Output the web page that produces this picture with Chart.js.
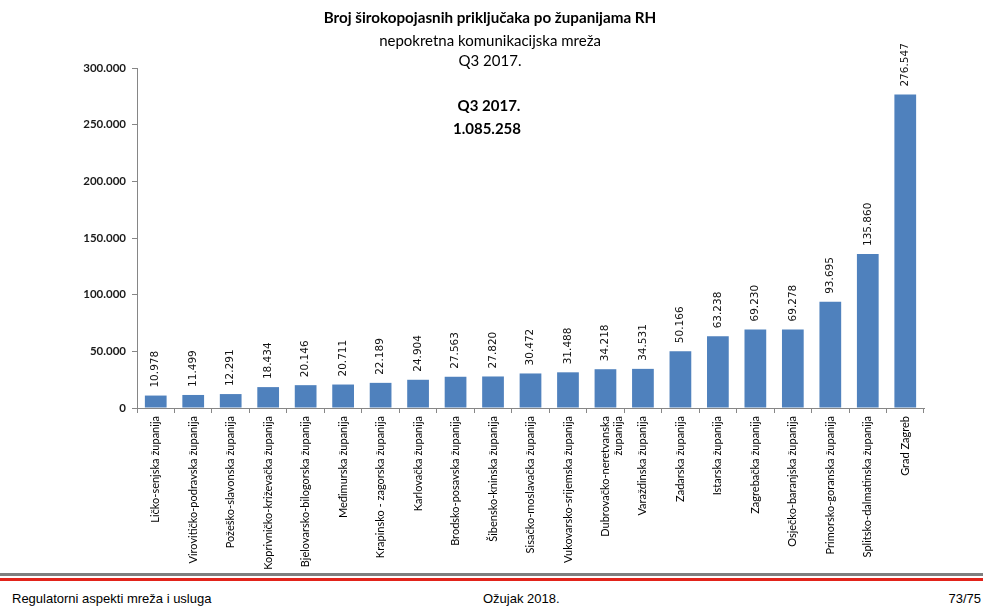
<!DOCTYPE html>
<html lang="hr">
<head>
<meta charset="utf-8">
<script src="https://cdn.jsdelivr.net/npm/chart.js@4/dist/chart.umd.min.js"></script>
<style>
  html, body { margin: 0; padding: 0; background: #fff; }
  #page { position: relative; width: 983px; height: 607px; overflow: hidden; }
  #wrap { position: absolute; left: 0; top: 0; width: 983px; height: 573px; }
  .head { position: absolute; left: 0; width: 980px; text-align: center; color: #000;
          font-family: Lato, sans-serif; white-space: nowrap; line-height: 20px; }
  #head-1 { top: 7px; font-size: 15.2px; font-weight: bold; }
  #head-2 { top: 30px; font-size: 15px; }
  #head-3 { top: 50px; font-size: 15px; }
  #rule-grey { position: absolute; left: 0; top: 573px; width: 983px; height: 3px; background: #7f7f7f; }
  #rule-red { position: absolute; left: 0; top: 578px; width: 983px; height: 3px; background: #e2231a; }
  .foot { position: absolute; top: 591px; font-family: "Liberation Sans Narrow", "Liberation Sans", Arial, sans-serif;
          font-size: 13px; color: #000; white-space: nowrap; }
  #foot-left { left: 12px; }
  #foot-mid { left: 483px; }
  #foot-right { right: 2px; }
</style>
</head>
<body>
<div id="page">
  <div id="wrap"><canvas id="chart"></canvas></div>
  <div class="head" id="head-1">Broj širokopojasnih priključaka po županijama RH</div>
  <div class="head" id="head-2">nepokretna komunikacijska mreža</div>
  <div class="head" id="head-3">Q3 2017.</div>
  <div id="rule-grey"></div>
  <div id="rule-red"></div>
  <div class="foot" id="foot-left">Regulatorni aspekti mreža i usluga</div>
  <div class="foot" id="foot-mid">Ožujak 2018.</div>
  <div class="foot" id="foot-right">73/75</div>
</div>
<script>
// Counties of Croatia, ordered by number of broadband connections
const counties = [
  "Ličko-senjska županija",
  "Virovitičko-podravska županija",
  "Požeško-slavonska županija",
  "Koprivničko-križevačka županija",
  "Bjelovarsko-bilogorska županija",
  "Međimurska županija",
  "Krapinsko - zagorska županija",
  "Karlovačka županija",
  "Brodsko-posavska županija",
  "Šibensko-kninska županija",
  "Sisačko-moslavačka županija",
  "Vukovarsko-srijemska županija",
  ["Dubrovačko-neretvanska", "županija"],
  "Varaždinska županija",
  "Zadarska županija",
  "Istarska županija",
  "Zagrebačka županija",
  "Osječko-baranjska županija",
  "Primorsko-goranska županija",
  "Splitsko-dalmatinska županija",
  "Grad Zagreb"
];

// Fixed broadband connections, Q3 2017.
const connections = [
  10978, 11499, 12291, 18434, 20146, 20711, 22189, 24904, 27563, 27820,
  30472, 31488, 34218, 34531, 50166, 63238, 69230, 69278, 93695, 135860, 276547
];

const yTicks = [0, 50000, 100000, 150000, 200000, 250000, 300000];

const periodLabel = "Q3 2017.";

// Croatian thousands separator
function fmt(n) {
  return String(n).replace(/\B(?=(\d{3})+(?!\d))/g, ".");
}

const total = connections.reduce((a, b) => a + b, 0);

const axisGrey = "#868686";

// Rotated value labels above each bar
const valueLabels = {
  id: "valueLabels",
  afterDatasetsDraw(chart) {
    const ctx = chart.ctx;
    const meta = chart.getDatasetMeta(0);
    ctx.save();
    ctx.font = "10.5px 'DejaVu Sans', sans-serif";
    ctx.fillStyle = "#111";
    ctx.textAlign = "left";
    ctx.textBaseline = "middle";
    meta.data.forEach((bar, i) => {
      ctx.save();
      ctx.translate(bar.x, bar.y - 8);
      ctx.rotate(-Math.PI / 2);
      ctx.fillText(fmt(connections[i]), 0, 0);
      ctx.restore();
    });
    ctx.restore();
  }
};

// Period and national total in the upper part of the plot
const totalBox = {
  id: "totalBox",
  afterDraw(chart) {
    const ctx = chart.ctx;
    ctx.save();
    ctx.font = "bold 15px Lato, sans-serif";
    ctx.fillStyle = "#000";
    ctx.textAlign = "center";
    ctx.textBaseline = "middle";
    ctx.fillText(periodLabel, 489, 106);
    ctx.fillText(fmt(total), 487, 129);
    ctx.restore();
  }
};

new Chart(document.getElementById("chart"), {
  type: "bar",
  data: {
    labels: counties,
    datasets: [{
      data: connections,
      backgroundColor: "#4f81bd",
      borderWidth: 0,
      barPercentage: 0.58,
      categoryPercentage: 1.0
    }]
  },
  options: {
    responsive: true,
    maintainAspectRatio: false,
    animation: false,
    layout: { padding: { left: 0, right: 59, top: 68, bottom: 0 } },
    plugins: {
      legend: { display: false },
      tooltip: { enabled: false },
      title: { display: false }
    },
    scales: {
      x: {
        offset: true,
        grid: {
          offset: true,
          drawOnChartArea: false,
          drawTicks: true,
          tickLength: 5,
          color: axisGrey
        },
        border: { display: true, color: axisGrey, width: 1 },
        ticks: {
          autoSkip: false,
          minRotation: 90,
          maxRotation: 90,
          padding: 3,
          color: "#000",
          font: { family: "Lato, sans-serif", size: 11 }
        },
        afterFit(scale) { scale.height = 165; }
      },
      y: {
        min: 0,
        max: 300000,
        afterBuildTicks(scale) { scale.ticks = yTicks.map(v => ({ value: v })); },
        grid: {
          drawOnChartArea: false,
          drawTicks: true,
          tickLength: 5,
          color: axisGrey
        },
        border: { display: true, color: axisGrey, width: 1 },
        ticks: {
          padding: 6,
          color: "#1a1a1a",
          font: { family: "Lato, sans-serif", size: 11.5, weight: "bold" },
          callback: (v) => fmt(v)
        },
        afterFit(scale) { scale.width = 137; }
      }
    }
  },
  plugins: [valueLabels, totalBox]
});
</script>
</body>
</html>
